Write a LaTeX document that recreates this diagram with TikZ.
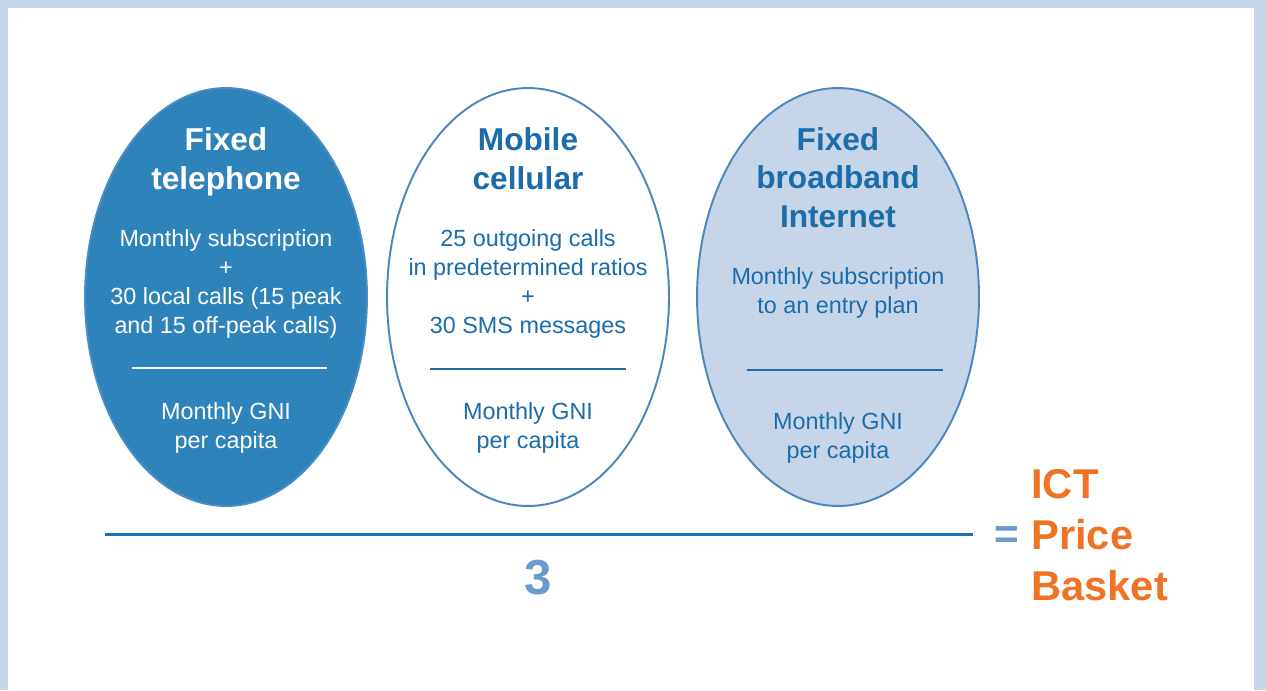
\documentclass[tikz,border=0pt]{standalone}
\usepackage{fontspec}
\setmainfont{Liberation Sans}
\usetikzlibrary{shapes.geometric}

\definecolor{frameblue}{HTML}{C6D5E8}
\definecolor{darkfill}{HTML}{2E83BB}
\definecolor{darkedge}{HTML}{4A8DC5}
\definecolor{textblue}{HTML}{1B6CAB}
\definecolor{edgeblue}{HTML}{4C86BF}
\definecolor{lightfill}{HTML}{C6D5E8}
\definecolor{fracblue}{HTML}{1F70AE}
\definecolor{softblue}{HTML}{6B9BCB}
\definecolor{ictorange}{HTML}{F07225}

\begin{document}
\begin{tikzpicture}[x=0.02cm, y=-0.02cm,
  oval/.style={ellipse, draw=edgeblue, line width=1.1pt, minimum width=5.64cm,
               minimum height=8.36cm, inner sep=0pt},
  title/.style={font=\fontsize{18}{22}\selectfont\bfseries, align=center, inner sep=0pt},
  body/.style={font=\fontsize{13.3}{16.6}\selectfont, align=center, inner sep=0pt},
  divider/.style={line width=1.4pt},
  basket/.style={font=\fontsize{23.7}{28.9}\selectfont\bfseries, text=ictorange,
                 align=left, inner sep=0pt}
]
  % frame
  \fill[frameblue] (0,0) rectangle (1266,690);
  \fill[white] (8,8) rectangle (1254,690);
  \useasboundingbox (0,0) rectangle (1266,690);

  % the three baskets
  \node[oval, fill=darkfill, draw=darkedge] (fixedtel) at (226,297) {};
  \node[oval, fill=white] (mobile) at (528,297) {};
  \node[oval, fill=lightfill] (broadband) at (838,297) {};

  \node[title, text=white] (fixedtitle) at (226,161.5) {Fixed\\telephone};
  \node[body, text=white] (fixedbody) at (226,284)
    {Monthly subscription\\+\\30 local calls (15 peak\\and 15 off-peak calls)};
  \draw[divider, white] (132,368) -- (327,368);
  \node[body, text=white] (fixedgni) at (226,428) {Monthly GNI\\per capita};

  \node[title, text=textblue] (mobiletitle) at (528,158.5) {Mobile\\cellular};
  \node[body, text=textblue] (mobilebody) at (528,284)
    {25 outgoing calls\\in predetermined ratios\\+\\30 SMS messages};
  \draw[divider, textblue] (430,369) -- (626,369);
  \node[body, text=textblue] (mobilegni) at (528,428) {Monthly GNI\\per capita};

  \node[title, text=textblue] (bbtitle) at (838,177.5) {Fixed\\broadband\\Internet};
  \node[body, text=textblue] (bbbody) at (838,293) {Monthly subscription\\to an entry plan};
  \draw[divider, textblue] (747,370) -- (943,370);
  \node[body, text=textblue] (bbgni) at (838,438) {Monthly GNI\\per capita};

  % fraction
  \draw[fracblue, line width=1.7pt] (105,534) -- (973,534);
  \node[font=\fontsize{28}{30}\selectfont\bfseries, text=softblue, inner sep=0pt]
    (three) at (538,578) {3};
  \node[font=\fontsize{24}{28}\selectfont\bfseries, text=softblue, inner sep=0pt]
    (equals) at (1007,538) {=};
  \node[basket, anchor=west] (ict) at (1031,535) {ICT\\Price\\Basket};
\end{tikzpicture}
\end{document}
